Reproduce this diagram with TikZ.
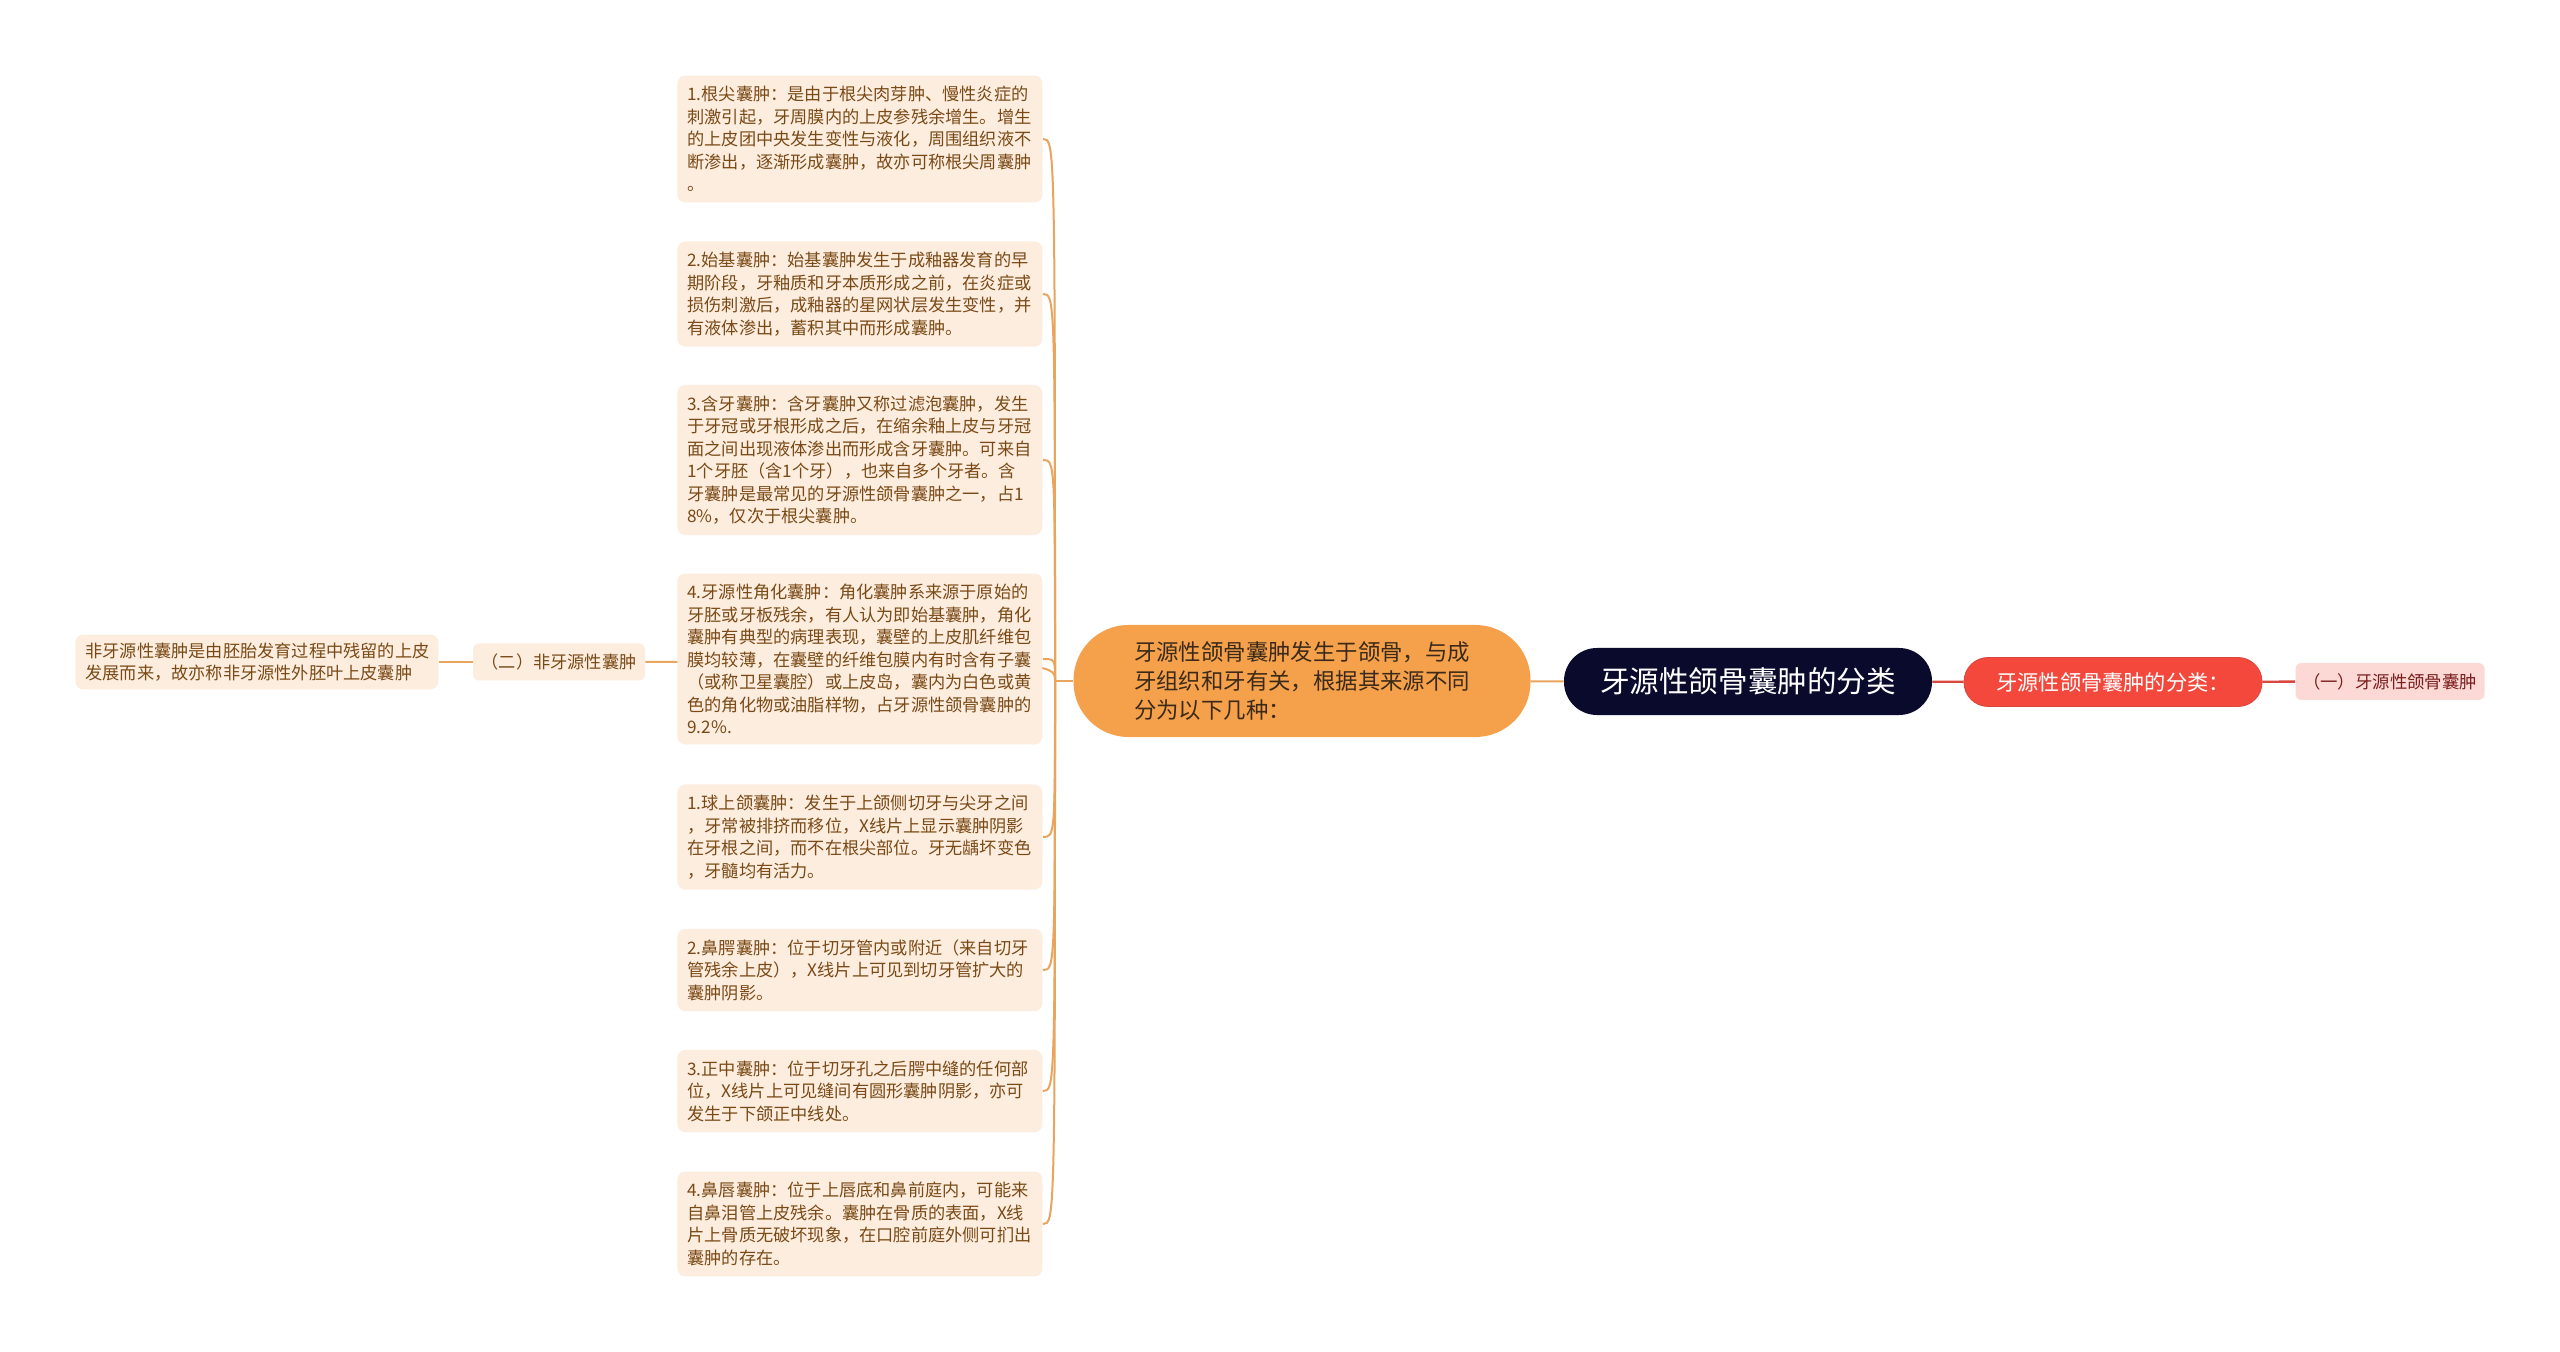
\documentclass[tikz,border=0pt]{standalone}
\usepackage{fontspec}
\newfontfamily\cjk{Noto Sans CJK SC}
\usetikzlibrary{backgrounds}
\definecolor{leafbg}{HTML}{FDEDDF}
\definecolor{leafink}{HTML}{7A4A16}
\definecolor{linkorange}{HTML}{E9A45E}
\definecolor{midorange}{HTML}{F5A14C}
\definecolor{midink}{HTML}{3B2A18}
\definecolor{rootnavy}{HTML}{0A0A2C}
\definecolor{catred}{HTML}{F4483C}
\definecolor{catline}{HTML}{D8483E}
\definecolor{subpink}{HTML}{FCD9D5}
\definecolor{subink}{HTML}{7B1E1E}
\newcommand{\lf}{\cjk\fontsize{8.6pt}{11.25pt}\selectfont}
\tikzset{
  leafbox/.style={fill=leafbg, text=leafink, font=\lf, rounded corners=4pt,
    align=left, text width=172.5pt, inner xsep=5pt, inner ysep=5.3pt, anchor=west},
  tagbox/.style={fill=leafbg, text=leafink, font=\lf, rounded corners=3pt,
    minimum height=18.5pt, inner xsep=4pt, inner ysep=0pt},
  leafline/.style={draw=linkorange, line width=1pt},
  redline/.style={draw=catline, line width=1.2pt},
}

\begin{document}
\begin{tikzpicture}[x=0.5pt,y=-0.5pt]
  \useasboundingbox (0,0) rectangle (2560,1352);
  \node[fill=rootnavy, text=white, font=\cjk\fontsize{14.8pt}{18pt}\selectfont,
    rounded corners=16.5pt, minimum width=184pt, minimum height=33.5pt, inner sep=0pt]
    (root) at (1748,681.5) {牙源性颌骨囊肿的分类};
  \node[fill=midorange, text=midink, font=\cjk\fontsize{11.2pt}{14.7pt}\selectfont,
    rounded corners=27.5pt, minimum width=228.5pt, minimum height=56pt, inner sep=0pt,
    align=left] (mid) at (1302,681)
    {牙源性颌骨囊肿发生于颌骨，与成\\牙组织和牙有关，根据其来源不同\\分为以下几种：};
  \node[fill=catred, draw=catline, text=white, font=\cjk\fontsize{10.6pt}{13pt}\selectfont,
    rounded corners=12pt, minimum width=149pt, minimum height=24.5pt, inner sep=0pt]
    (cat) at (2113,682) {牙源性颌骨囊肿的分类：};
  \node[fill=subpink, text=subink, font=\cjk\fontsize{8.7pt}{11pt}\selectfont,
    rounded corners=3pt, minimum width=94.5pt, minimum height=18.5pt, inner sep=0pt]
    (sub) at (2390,681.5) {（一）牙源性颌骨囊肿};
  \node[tagbox, minimum width=86pt] (er) at (559,662) {（二）非牙源性囊肿};
  \node[leafbox, text width=171.5pt, inner ysep=4pt] (lb) at (75,662)
    {非牙源性囊肿是由胚胎发育过程中残留的上皮\\发展而来，故亦称非牙源性外胚叶上皮囊肿};
  \coordinate (bund) at (1055,681);
  \node[leafbox] (L1) at (677,139)
    {1.根尖囊肿：是由于根尖肉芽肿、慢性炎症的\\刺激引起，牙周膜内的上皮参残余增生。增生\\的上皮团中央发生变性与液化，周围组织液不\\断渗出，逐渐形成囊肿，故亦可称根尖周囊肿\\。};
  \node[leafbox] (L2) at (677,294)
    {2.始基囊肿：始基囊肿发生于成釉器发育的早\\期阶段，牙釉质和牙本质形成之前，在炎症或\\损伤刺激后，成釉器的星网状层发生变性，并\\有液体渗出，蓄积其中而形成囊肿。};
  \node[leafbox] (L3) at (677,460)
    {3.含牙囊肿：含牙囊肿又称过滤泡囊肿，发生\\于牙冠或牙根形成之后，在缩余釉上皮与牙冠\\面之间出现液体渗出而形成含牙囊肿。可来自\\1个牙胚（含1个牙），也来自多个牙者。含\\牙囊肿是最常见的牙源性颌骨囊肿之一，占1\\8\%，仅次于根尖囊肿。};
  \node[leafbox] (L4) at (677,659)
    {4.牙源性角化囊肿：角化囊肿系来源于原始的\\牙胚或牙板残余，有人认为即始基囊肿，角化\\囊肿有典型的病理表现，囊壁的上皮肌纤维包\\膜均较薄，在囊壁的纤维包膜内有时含有子囊\\（或称卫星囊腔）或上皮岛，囊内为白色或黄\\色的角化物或油脂样物，占牙源性颌骨囊肿的\\9.2\%.};
  \node[leafbox] (L5) at (677,837)
    {1.球上颌囊肿：发生于上颌侧切牙与尖牙之间\\，牙常被排挤而移位，X线片上显示囊肿阴影\\在牙根之间，而不在根尖部位。牙无龋坏变色\\，牙髓均有活力。};
  \node[leafbox] (L6) at (677,970)
    {2.鼻腭囊肿：位于切牙管内或附近（来自切牙\\管残余上皮），X线片上可见到切牙管扩大的\\囊肿阴影。};
  \node[leafbox] (L7) at (677,1091)
    {3.正中囊肿：位于切牙孔之后腭中缝的任何部\\位，X线片上可见缝间有圆形囊肿阴影，亦可\\发生于下颌正中线处。};
  \node[leafbox] (L8) at (677,1224)
    {4.鼻唇囊肿：位于上唇底和鼻前庭内，可能来\\自鼻泪管上皮残余。囊肿在骨质的表面，X线\\片上骨质无破坏现象，在口腔前庭外侧可扪出\\囊肿的存在。};
  \begin{pgfonlayer}{background}
    \fill[white] (0,0) rectangle (2560,1352);
    \draw[leafline] (mid) -- (root);
    \draw[redline] (root) -- (cat);
    \draw[redline] (cat) -- (sub);
    \draw[leafline] (mid.west) -- (bund);
    \foreach \n in {L1,L2,L3,L4,L5,L6,L7,L8,er}
      \draw[leafline] (bund) .. controls (bund |- \n.east) and (bund |- \n.east) .. (\n.east);
    \draw[leafline] (er) -- (lb);
  \end{pgfonlayer}
\end{tikzpicture}
\end{document}
